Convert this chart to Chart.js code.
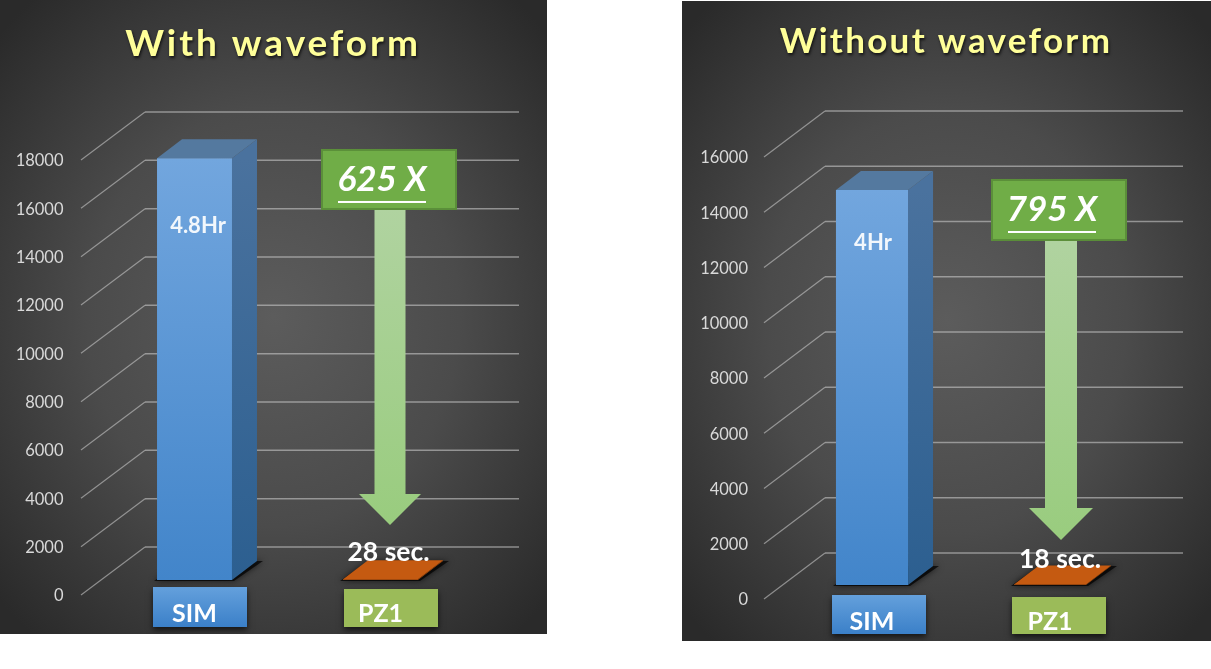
<!DOCTYPE html>
<html>
<head>
<meta charset="utf-8">
<title>With and without waveform</title>
<script src="https://cdn.jsdelivr.net/npm/chart.js@4"></script>
<style>
    html, body { margin: 0; padding: 0; background: #fff; }
    canvas {
        position: absolute;
        background: radial-gradient(ellipse 68% 66% at 50% 50%, #5c5c5c 0%, #4b4b4b 50%, #2a2a2a 100%);
    }
    #withChart { left: 0; top: 0; }
    #withoutChart { left: 682px; top: 1px; }
</style>
</head>
<body>
<canvas id="withChart" width="547" height="634"></canvas>
<canvas id="withoutChart" width="529" height="640"></canvas>
<script>
var categories = ['SIM', 'PZ1'];
var withValues = [17450, 28];
var withoutValues = [14300, 18];
var withTicks = [0, 2000, 4000, 6000, 8000, 10000, 12000, 14000, 16000, 18000];
var withoutTicks = [0, 2000, 4000, 6000, 8000, 10000, 12000, 14000, 16000];
var FONT = 'Lato, "Open Sans", sans-serif';

function polygon(ctx, pts, fill) {
    ctx.beginPath();
    ctx.moveTo(pts[0][0], pts[0][1]);
    for (var i = 1; i < pts.length; i++) ctx.lineTo(pts[i][0], pts[i][1]);
    ctx.closePath();
    ctx.fillStyle = fill;
    ctx.fill();
}

function vGradient(ctx, y0, y1, c0, c1) {
    var g = ctx.createLinearGradient(0, y0, 0, y1);
    g.addColorStop(0, c0);
    g.addColorStop(1, c1);
    return g;
}

function centerText(ctx, text, x, y, font, color) {
    ctx.font = font;
    ctx.fillStyle = color;
    ctx.textAlign = 'center';
    ctx.textBaseline = 'middle';
    ctx.fillText(text, x, y);
}

// back wall, side faces, tops and all the notes drawn around the bars
var scenePlugin = {
    id: 'scene',
    beforeDraw: function(chart) {
        var p = chart.options.plugins.scene;
        var ctx = chart.ctx;
        var bars = chart.getDatasetMeta(0).data;

        ctx.save();
        ctx.font = 'bold ' + p.titleSize + 'px ' + FONT;
        ctx.letterSpacing = p.titleSpacing + 'px';
        ctx.textAlign = 'center';
        ctx.textBaseline = 'alphabetic';
        ctx.fillStyle = '#ffff99';
        ctx.shadowColor = 'rgba(0,0,0,0.7)';
        ctx.shadowBlur = 3;
        ctx.shadowOffsetX = 1;
        ctx.shadowOffsetY = 2;
        ctx.fillText(p.title, p.titleX, p.titleY);
        ctx.restore();

        // coloured boxes behind the category labels
        for (var i = 0; i < bars.length; i++) {
            var b = p.boxes[i];
            ctx.save();
            ctx.shadowColor = 'rgba(0,0,0,0.65)';
            ctx.shadowBlur = 6;
            ctx.shadowOffsetY = 3;
            ctx.fillStyle = i == 0 ? vGradient(ctx, b.y, b.y + b.h, '#64a0dc', '#3b80c8') : '#9bbb59';
            ctx.fillRect(bars[i].x + b.dx, b.y, b.w, b.h);
            ctx.restore();
        }
    },
    beforeDatasetsDraw: function(chart) {
        var p = chart.options.plugins.scene;
        var ctx = chart.ctx;
        var y = chart.scales.y;
        var bars = chart.getDatasetMeta(0).data;

        // perspective grid
        ctx.save();
        ctx.strokeStyle = 'rgba(200,200,200,0.6)';
        p.ticks.forEach(function(v) {
            var py = y.getPixelForValue(v);
            var backX = p.wallLeft + p.wallDx;
            var backY = py - p.wallRaise;
            ctx.lineWidth = 1.2;
            ctx.beginPath();
            ctx.moveTo(p.wallLeft, backY + p.wallDy);
            ctx.lineTo(backX, backY);
            ctx.stroke();
            ctx.lineWidth = 1.5;
            ctx.beginPath();
            ctx.moveTo(backX, backY);
            ctx.lineTo(p.wallRight, backY);
            ctx.stroke();
        });
        ctx.restore();

        bars.forEach(function(bar, i) {
            var l = bar.x - bar.width / 2;
            var r = bar.x + bar.width / 2;
            var top = bar.y;
            var base = bar.base;
            var dx = p.barDx;
            var dy = p.barDy;

            // dark shadow on the floor
            ctx.save();
            ctx.shadowColor = 'rgba(0,0,0,0.9)';
            ctx.shadowBlur = 6;
            polygon(ctx, [[l - 3, base + 1], [r + 2, base + 1], [r + dx + 6, base - dy], [l + dx, base - dy]], 'rgba(0,0,0,0.7)');
            ctx.restore();

            // right side and top faces
            polygon(ctx, [[r, top], [r + dx, top - dy], [r + dx, base - dy], [r, base]],
                i == 0 ? vGradient(ctx, top, base, '#4a729e', '#2c5f90') : '#a34c0e');
            polygon(ctx, [[l, top], [r, top], [r + dx, top - dy], [l + dx, top - dy]],
                i == 0 ? '#54799f' : '#c55a11');
        });
    },
    afterDatasetsDraw: function(chart) {
        var p = chart.options.plugins.scene;
        var ctx = chart.ctx;
        var y = chart.scales.y;
        var bars = chart.getDatasetMeta(0).data;
        var sim = bars[0];
        var pz = bars[1];

        centerText(ctx, p.simLabel, sim.x + p.simLabelDx, y.getPixelForValue(p.simLabelAt), 'bold 22px ' + FONT, '#f2f7fc');

        // arrow from the ratio box down to the small bar
        var ax = pz.x + p.arrowDx;
        var boxTop = y.getPixelForValue(p.boxFrom);
        var boxBottom = y.getPixelForValue(p.boxTo);
        var neck = y.getPixelForValue(p.arrowNeck);
        var tip = y.getPixelForValue(p.arrowTip);
        polygon(ctx, [
            [ax - p.shaft, boxBottom], [ax + p.shaft, boxBottom], [ax + p.shaft, neck], [ax + p.head, neck],
            [ax, tip], [ax - p.head, neck], [ax - p.shaft, neck]
        ], vGradient(ctx, boxBottom, tip, '#b0d3a0', '#99cc7e'));

        centerText(ctx, p.pzLabel, pz.x + p.pzLabelDx, pz.y - p.pzLabelUp, 'bold 26.5px ' + FONT, '#ffffff');

        // ratio box
        var boxX = pz.x + p.boxDx;
        ctx.fillStyle = '#70ad47';
        ctx.strokeStyle = '#5b8f3a';
        ctx.lineWidth = 2;
        ctx.fillRect(boxX, boxTop, p.boxW, boxBottom - boxTop);
        ctx.strokeRect(boxX, boxTop, p.boxW, boxBottom - boxTop);
        var tx = pz.x + p.ratioDx;
        centerText(ctx, p.ratio, tx, boxTop + 30, 'italic bold 35px ' + FONT, '#ffffff');
        ctx.fillStyle = '#ffffff';
        ctx.fillRect(tx - 44, boxTop + 51, 88, 2);
    }
};

function makeChart(id, values, ticks, opts) {
    var ctx = document.getElementById(id).getContext('2d');
    opts.ticks = ticks;
    return new Chart(ctx, {
        type: 'bar',
        plugins: [scenePlugin],
        data: {
            labels: categories,
            datasets: [{
                data: values,
                backgroundColor: function(c) {
                    if (c.dataIndex == 1) return '#c55a11';
                    var s = c.chart.scales.y;
                    if (!s || !isFinite(s.getPixelForValue(values[0]))) return '#5b9bd5';
                    return vGradient(c.chart.ctx, s.getPixelForValue(values[0]), s.getPixelForValue(0), '#72a6de', '#4285ca');
                },
                borderWidth: 0,
                barPercentage: opts.barPct,
                categoryPercentage: 1
            }]
        },
        options: {
            responsive: false,
            animation: false,
            events: [],
            layout: { padding: { top: opts.top, right: opts.right, left: 0, bottom: 0 } },
            scales: {
                x: {
                    afterFit: function(s) { s.height = opts.axisH; },
                    grid: { display: false },
                    border: { display: false },
                    ticks: {
                        color: '#ffffff',
                        font: { family: FONT, size: 25, weight: 'bold' },
                        padding: opts.xPad,
                        maxRotation: 0,
                        autoSkip: false
                    }
                },
                y: {
                    min: 0,
                    max: ticks[ticks.length - 1],
                    afterFit: function(s) { s.width = opts.axisW; },
                    afterBuildTicks: function(s) {
                        s.ticks = ticks.map(function(v) { return { value: v }; });
                    },
                    grid: { display: false },
                    border: { display: false },
                    ticks: {
                        color: '#d9d9d9',
                        font: { family: FONT, size: 16.5 },
                        padding: opts.yPad,
                        labelOffset: opts.tickDrop,
                        callback: function(v) { return String(v); }
                    }
                }
            },
            plugins: { legend: { display: false }, tooltip: { enabled: false }, scene: opts }
        }
    });
}

makeChart('withChart', withValues, withTicks, {
    title: 'With waveform', titleSize: 37, titleSpacing: 3, titleX: 273, titleY: 56,
    top: 145, right: 73.5, axisW: 101.5, axisH: 54, xPad: 11, yPad: 30, tickDrop: 16, barPct: 0.403,
    wallLeft: 81, wallDx: 64, wallDy: 48, wallRaise: 33, wallRight: 519,
    barDx: 25, barDy: 19,
    boxes: [{ dx: -41.5, y: 587, w: 94, h: 40 }, { dx: -36.5, y: 589, w: 94, h: 38 }],
    simLabel: '4.8Hr', simLabelDx: 3.5, simLabelAt: 14650,
    pzLabel: '28 sec.', pzLabelDx: 8, pzLabelUp: 27,
    ratio: '625 X', ratioDx: 1.5, boxDx: -58.5, boxW: 134, boxFrom: 17794, boxTo: 15352,
    arrowDx: 9.5, shaft: 15.5, head: 31, arrowNeck: 3559, arrowTip: 2276
});

makeChart('withoutChart', withoutValues, withoutTicks, {
    title: 'Without waveform', titleSize: 35, titleSpacing: 2.3, titleX: 264, titleY: 52,
    top: 142, right: 72, axisW: 101, axisH: 56, xPad: 14, yPad: 27, tickDrop: 15, barPct: 0.405,
    wallLeft: 82, wallDx: 61, wallDy: 46, wallRaise: 32, wallRight: 501,
    barDx: 25, barDy: 19,
    boxes: [{ dx: -40, y: 594, w: 94, h: 39 }, { dx: -38, y: 596, w: 94, h: 37 }],
    simLabel: '4Hr', simLabelDx: 1, simLabelAt: 12380,
    pzLabel: '18 sec.', pzLabelDx: 10, pzLabelUp: 25,
    ratio: '795 X', ratioDx: 2, boxDx: -58, boxW: 134, boxFrom: 14661, boxTo: 12489,
    arrowDx: 11, shaft: 16, head: 32, arrowNeck: 2787, arrowTip: 1629
});
</script>
</body>
</html>
